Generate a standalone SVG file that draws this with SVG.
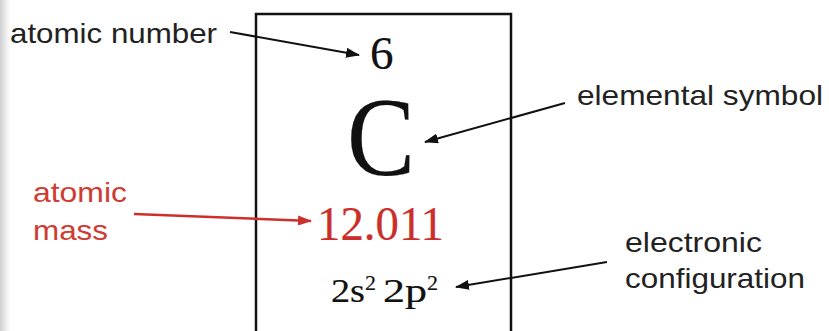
<svg xmlns="http://www.w3.org/2000/svg" width="829" height="331" viewBox="0 0 829 331">
  <defs>
    <linearGradient id="edge" x1="0" y1="0" x2="1" y2="0">
      <stop offset="0" stop-color="#cfcfcf"/>
      <stop offset="1" stop-color="#ffffff"/>
    </linearGradient>
    <marker id="ah" viewBox="0 0 14 10" refX="13" refY="5" markerWidth="14" markerHeight="10" markerUnits="userSpaceOnUse" orient="auto">
      <path d="M0,0 L14,5 L0,10 Z" fill="#111"/>
    </marker>
    <marker id="ahr" viewBox="0 0 14 10" refX="13" refY="5" markerWidth="14" markerHeight="10" markerUnits="userSpaceOnUse" orient="auto">
      <path d="M0,0 L14,5 L0,10 Z" fill="#cf2f2a"/>
    </marker>
  </defs>
  <style>
    .lbl { font-family: "Liberation Sans", Arial, sans-serif; font-size: 28px; fill: #222; }
    .red { fill: #cf3a33; }
    .ser { font-family: "Liberation Serif", "Times New Roman", serif; fill: #111; stroke: #111; stroke-width: 0.2; }
    .conn { stroke: #111; stroke-width: 2; fill: none; marker-end: url(#ah); }
    .connr { stroke: #cf2f2a; stroke-width: 2.5; fill: none; marker-end: url(#ahr); }
  </style>
  <rect width="829" height="331" fill="#fff"/>
  <rect x="0" y="0" width="10" height="331" fill="url(#edge)"/>

  <g id="element-box">
    <rect x="256" y="14" width="255" height="340" fill="none" stroke="#111" stroke-width="2.5"/>
    <text class="ser" x="370" y="69" font-size="47" stroke-width="0.4">6</text>
    <text class="ser" x="347" y="175" font-size="113" stroke-width="2" textLength="68" lengthAdjust="spacingAndGlyphs">C</text>
    <text class="ser" x="317" y="240" font-size="48" stroke-width="0.4" style="fill:#cc2f2a;stroke:#cc2f2a" textLength="127" lengthAdjust="spacingAndGlyphs">12.011</text>
    <text class="ser" x="331" y="302" font-size="34"><tspan textLength="34" lengthAdjust="spacingAndGlyphs">2s</tspan><tspan font-size="22" dy="-12">2</tspan><tspan dx="7" dy="12" textLength="44" lengthAdjust="spacingAndGlyphs">2p</tspan><tspan font-size="22" dy="-12">2</tspan></text>
  </g>

  <g id="label-atomic-number">
    <text class="lbl" x="10" y="43" textLength="207" lengthAdjust="spacingAndGlyphs">atomic number</text>
  </g>
  <g id="label-elemental-symbol">
    <text class="lbl" x="577" y="105" textLength="246" lengthAdjust="spacingAndGlyphs">elemental symbol</text>
  </g>
  <g id="label-atomic-mass">
    <text class="lbl red" x="33" y="202" textLength="94" lengthAdjust="spacingAndGlyphs">atomic</text>
    <text class="lbl red" x="33" y="240" textLength="75" lengthAdjust="spacingAndGlyphs">mass</text>
  </g>
  <g id="label-electronic-configuration">
    <text class="lbl" x="625" y="252" textLength="137" lengthAdjust="spacingAndGlyphs">electronic</text>
    <text class="lbl" x="625" y="288" textLength="180" lengthAdjust="spacingAndGlyphs">configuration</text>
  </g>

  <g id="connectors">
    <line class="conn" x1="230" y1="32" x2="359" y2="55"/>
    <line class="conn" x1="565" y1="103" x2="425" y2="142"/>
    <line class="connr" x1="134" y1="214" x2="311" y2="221"/>
    <line class="conn" x1="607" y1="262" x2="456" y2="287"/>
  </g>
</svg>
